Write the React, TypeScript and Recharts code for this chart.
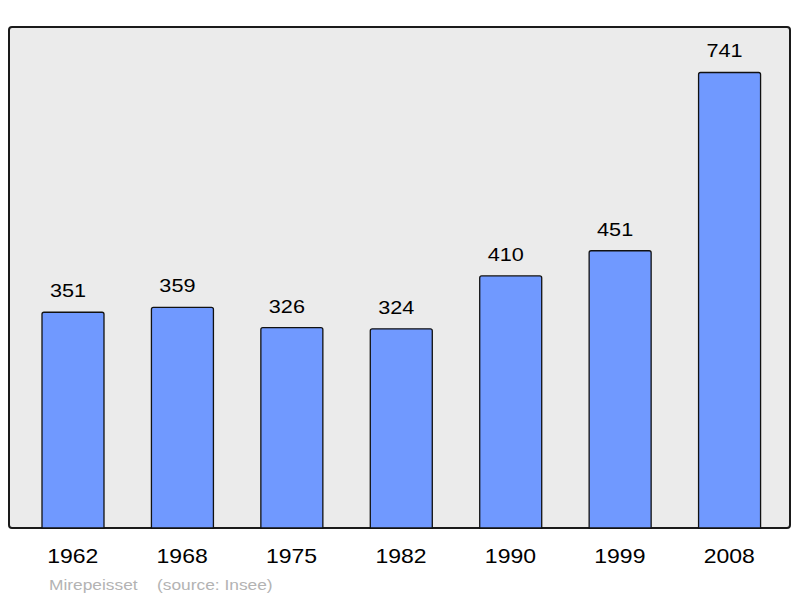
import React from 'react';
import { BarChart, Bar, XAxis, YAxis, LabelList } from 'recharts';

const years = ['1962', '1968', '1975', '1982', '1990', '1999', '2008'];
const population = [351, 359, 326, 324, 410, 451, 741];
const communeName = 'Mirepeisset';
const sourceText = '(source: Insee)';

const data = years.map((year, i) => ({ year, pop: population[i] }));

const W = 800;
const H = 598;
const M = { top: 27, left: 9, right: 10, bottom: 0 };
const AXIS_H = 70;
const PLOT_W = W - M.left - M.right;
const PLOT_H = H - M.top - M.bottom - AXIS_H;
const FONT = '"Liberation Sans", Arial, sans-serif';

const FrameBg = () => (
  <rect x={M.left} y={M.top} width={PLOT_W} height={PLOT_H} rx={3} ry={3} fill="#ebebeb" />
);

const FrameBorder = () => (
  <rect
    x={M.left}
    y={M.top}
    width={PLOT_W}
    height={PLOT_H}
    rx={3}
    ry={3}
    fill="none"
    stroke="#1a1a1a"
    strokeWidth={2}
  />
);

const Footer = () => (
  <g fill="#b3b3b3" fontFamily={FONT} fontSize={15.5}>
    <text transform={`translate(49,590) scale(1.12,1)`}>{communeName}</text>
    <text transform={`translate(157,590) scale(1.12,1)`}>{sourceText}</text>
  </g>
);

const ValueLabel = (props: any) => {
  const { x, y, width, value } = props;
  const cx = Number(x) + Number(width) / 2 - 5;
  return (
    <text
      transform={`translate(${cx},${Number(y) - 15}) scale(1.14,1)`}
      textAnchor="middle"
      fontSize={19}
      fontFamily={FONT}
      fill="#000"
    >
      {value}
    </text>
  );
};

const YearTick = (props: any) => {
  const { x, y, payload } = props;
  return (
    <text
      transform={`translate(${x},${Number(y) + 35}) scale(1.15,1)`}
      textAnchor="middle"
      fontSize={20}
      fontFamily={FONT}
      fill="#000"
    >
      {payload.value}
    </text>
  );
};

export default function App() {
  return (
    <div style={{ position: 'absolute', left: 0, top: 0, width: W, height: H, background: '#fff' }}>
      <BarChart width={W} height={H} data={data} margin={M}>
        <FrameBg />
        <XAxis
          dataKey="year"
          height={AXIS_H}
          axisLine={false}
          tickLine={false}
          tickSize={0}
          tickMargin={0}
          padding={{ left: 9, right: 6 }}
          tick={<YearTick />}
          interval={0}
        />
        <YAxis hide domain={[0, 815]} />
        <Bar
          dataKey="pop"
          barSize={62}
          fill="#7099ff"
          stroke="#111"
          strokeWidth={1.3}
          radius={[2, 2, 0, 0]}
          isAnimationActive={false}
        >
          <LabelList dataKey="pop" content={<ValueLabel />} />
        </Bar>
        <FrameBorder />
        <Footer />
      </BarChart>
    </div>
  );
}
